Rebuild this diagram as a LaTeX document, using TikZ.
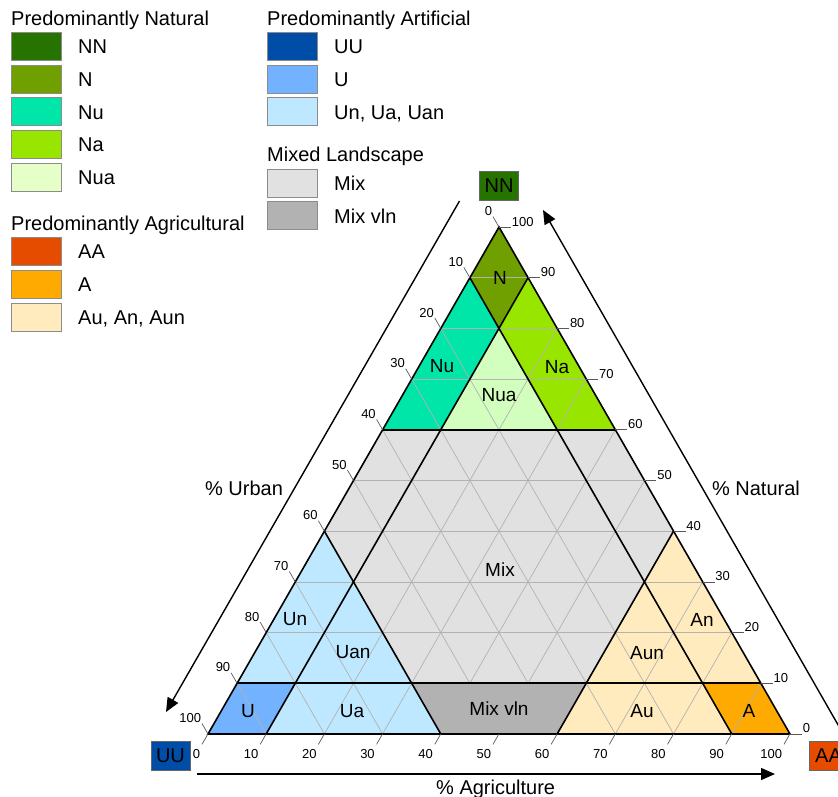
\documentclass[tikz,border=0pt]{standalone}
\usepackage{fontspec}
\setmainfont{Liberation Sans}
\usetikzlibrary{arrows.meta,calc}
\definecolor{cNN}{HTML}{267300}
\definecolor{cN}{HTML}{70A000}
\definecolor{cNu}{HTML}{00E6A9}
\definecolor{cNa}{HTML}{98E600}
\definecolor{cNua}{HTML}{D3FFBE}
\definecolor{cNuaL}{HTML}{E6FFC8}
\definecolor{cAA}{HTML}{E64C00}
\definecolor{cA}{HTML}{FFAA00}
\definecolor{cAx}{HTML}{FFEBBE}
\definecolor{cUU}{HTML}{004DA8}
\definecolor{cU}{HTML}{73B2FF}
\definecolor{cUx}{HTML}{BEE8FF}
\definecolor{cMix}{HTML}{E1E1E1}
\definecolor{cMixv}{HTML}{B2B2B2}
\begin{document}
\begin{tikzpicture}[x=1pt,y=-1pt,
  lgbox/.style={draw=black!45, line width=0.8pt, minimum width=50pt, minimum height=28pt, inner sep=0pt},
  lgtxt/.style={anchor=base west, font=\fontsize{20}{24}\selectfont, inner sep=0pt},
  regtxt/.style={font=\fontsize{19}{22}\selectfont, inner sep=0pt},
  ticklab/.style={font=\fontsize{13}{15}\selectfont, inner sep=0.5pt},
  gridln/.style={draw=black!30, line width=0.7pt},
  bound/.style={draw=black, line width=1.6pt},
  tickln/.style={draw=black!65, line width=0.7pt},
  axarrow/.style={draw=black, line width=1.4pt, -{Triangle[length=14pt,width=12pt]}},
  axlab/.style={anchor=base, font=\fontsize{20}{24}\selectfont, inner sep=0pt},
  cornerbox/.style={draw=black!60, line width=0.8pt, minimum width=39pt, minimum height=29pt, inner sep=0pt, font=\fontsize{20}{24}\selectfont}
]
\useasboundingbox (0,0) rectangle (838,796);
\clip (0,0) rectangle (838,796);
% corners
\coordinate (T) at (499,227);
\coordinate (L) at (208,734);
\coordinate (R) at (790,734);
\foreach \n in {0,...,10}{
  \pgfmathtruncatemacro\um{10-\n}
  \foreach \u in {0,...,\um}{
    \pgfmathtruncatemacro\am{10-\n-\u}
    \coordinate (p\n-\u) at (barycentric cs:T=\n,L=\u,R=\am);
  }
}
% regions
\fill[cN]   (p10-0) -- (p9-1) -- (p8-1) -- (p9-0) -- cycle;
\fill[cNu]  (p9-1) -- (p8-1) -- (p6-3) -- (p6-4) -- cycle;
\fill[cNa]  (p9-0) -- (p8-1) -- (p6-1) -- (p6-0) -- cycle;
\fill[cNua] (p8-1) -- (p6-3) -- (p6-1) -- cycle;
\fill[cMix] (p6-4) -- (p6-0) -- (p4-0) -- (p1-3) -- (p1-6) -- (p4-6) -- cycle;
\fill[cMixv] (p1-6) -- (p1-3) -- (p0-4) -- (p0-6) -- cycle;
\fill[cUx]  (p4-6) -- (p1-9) -- (p0-9) -- (p0-6) -- cycle;
\fill[cU]   (p1-9) -- (p1-8) -- (p0-9) -- (p0-10) -- cycle;
\fill[cAx]  (p4-0) -- (p1-0) -- (p0-1) -- (p0-4) -- cycle;
\fill[cA]   (p1-1) -- (p1-0) -- (p0-0) -- (p0-1) -- cycle;
% grid
\foreach \k in {1,...,9}{
  \pgfmathtruncatemacro\m{10-\k}
  \draw[gridln] (p\k-\m) -- (p\k-0);
  \draw[gridln] (p\m-\k) -- (p0-\k);
  \draw[gridln] (p\m-0) -- (p0-\m);
}
% boundaries
\foreach \k in {1,6}{
  \pgfmathtruncatemacro\m{10-\k}
  \draw[bound] (p\k-\m) -- (p\k-0);
  \draw[bound] (p\m-\k) -- (p0-\k);
  \draw[bound] (p\m-0) -- (p0-\m);
}
\draw[bound, line join=miter] (T) -- (L) -- (R) -- cycle;
% ticks and labels
\foreach \k in {0,...,10}{
  \pgfmathtruncatemacro\m{10-\k}
  \pgfmathtruncatemacro\v{10*\k}
  \draw[tickln] (p\m-\k) -- ++(-6,-10.4) node[ticklab, anchor=south east] (lu\k) {\v};
  \draw[tickln] (p\k-0) -- ++(12,0) node[ticklab, anchor=south west] (ln\k) {\v};
  \draw[tickln] (p0-\m) -- ++(-6,10.4) node[ticklab, anchor=north east, xshift=-1pt, yshift=-4pt] (la\k) {\v};
}
% region labels
\node[regtxt] (rN) at (500,277.5) {N};
\node[regtxt] (rNu) at (442,366.5) {Nu};
\node[regtxt] (rNa) at (557,367) {Na};
\node[regtxt] (rNua) at (499,395) {Nua};
\node[regtxt] (rMix) at (500,570) {Mix};
\node[regtxt] (rMixv) at (499,709) {Mix vln};
\node[regtxt] (rUn) at (295,619) {Un};
\node[regtxt] (rUan) at (353,652) {Uan};
\node[regtxt] (rU) at (248,711) {U};
\node[regtxt] (rUa) at (352,711) {Ua};
\node[regtxt] (rAn) at (702,620) {An};
\node[regtxt] (rAun) at (647,653) {Aun};
\node[regtxt] (rAu) at (642,711) {Au};
\node[regtxt] (rA) at (749,711) {A};
% corner boxes
\node[cornerbox, fill=cNN] (NNc) at (499,185.5) {NN};
\node[cornerbox, fill=cUU] (UUc) at (170.5,755.5) {UU};
\node[cornerbox, fill=cAA] (AAc) at (828.5,755.5) {AA};
% axis arrows
\coordinate (uA) at (459.5,201);
\coordinate (uB) at (166,712);
\draw[axarrow] (uA) -- (uB);
\coordinate (nA) at (841,730);
\coordinate (nB) at (543,210);
\draw[axarrow] (nA) -- (nB);
\coordinate (aA) at (197,774);
\coordinate (aB) at (775,774);
\draw[axarrow] (aA) -- (aB);
\node[axlab] (xU) at (244,495) {\% Urban};
\node[axlab] (xN) at (756,495) {\% Natural};
\node[axlab, anchor=base west] (xA) at (436,794) {\% Agriculture};
% legend left
\node[lgtxt] (hN) at (11,25) {Predominantly Natural};
\node[lgbox, fill=cNN] (bNN) at (36,46.5) {};
\node[lgtxt] (tNN) at (78,53.7) {NN};
\node[lgbox, fill=cN] (bN) at (36,79) {};
\node[lgtxt] (tN) at (78,86.2) {N};
\node[lgbox, fill=cNu] (bNu) at (36,111.8) {};
\node[lgtxt] (tNu) at (78,119) {Nu};
\node[lgbox, fill=cNa] (bNa) at (36,144.5) {};
\node[lgtxt] (tNa) at (78,151.7) {Na};
\node[lgbox, fill=cNuaL] (bNua) at (36,177.3) {};
\node[lgtxt] (tNua) at (78,184.5) {Nua};
\node[lgtxt] (hA) at (11,230) {Predominantly Agricultural};
\node[lgbox, fill=cAA] (bAA) at (36,251.7) {};
\node[lgtxt] (tAA) at (78,258.9) {AA};
\node[lgbox, fill=cA] (bA) at (36,284.5) {};
\node[lgtxt] (tA) at (78,291.7) {A};
\node[lgbox, fill=cAx] (bAx) at (36,317.5) {};
\node[lgtxt] (tAx) at (78,324.7) {Au, An, Aun};
% legend middle
\node[lgtxt] (hU) at (267,25) {Predominantly Artificial};
\node[lgbox, fill=cUU] (bUU) at (292,46.5) {};
\node[lgtxt] (tUU) at (334,53.7) {UU};
\node[lgbox, fill=cU] (bU) at (292,79) {};
\node[lgtxt] (tU) at (334,86.2) {U};
\node[lgbox, fill=cUx] (bUx) at (292,111.8) {};
\node[lgtxt] (tUx) at (334,119) {Un, Ua, Uan};
\node[lgtxt] (hM) at (267,161.7) {Mixed Landscape};
\node[lgbox, fill=cMix] (bMix) at (292,183.3) {};
\node[lgtxt] (tMix) at (334,190.5) {Mix};
\node[lgbox, fill=cMixv] (bMixv) at (292,215.8) {};
\node[lgtxt] (tMixv) at (334,223) {Mix vln};
\end{tikzpicture}
\end{document}
